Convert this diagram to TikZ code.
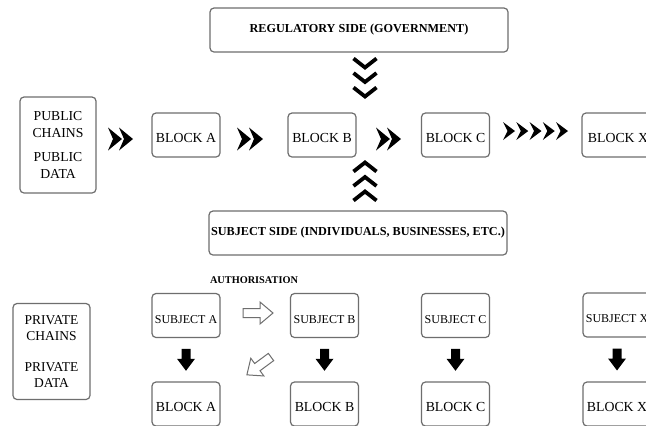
\documentclass[tikz,border=0pt]{standalone}
\usepackage{fontspec}
\setmainfont{Liberation Serif}
\usetikzlibrary{calc}
\definecolor{boxgray}{RGB}{110,110,110}
\tikzset{
  box/.style={draw=boxgray, line width=1.2bp, rounded corners=4bp, inner sep=0pt, fill=white},
  blockbox/.style={box, minimum width=68bp, minimum height=44bp, font=\fontsize{13.8bp}{16bp}\selectfont, text height=15bp, text depth=0bp},
  subjbox/.style={box, minimum width=68bp, minimum height=44bp, font=\fontsize{12bp}{14bp}\selectfont, text height=15bp, text depth=0bp},
  sidebox/.style={box, align=center, minimum width=76bp, minimum height=96bp, font=\fontsize{13.7bp}{17bp}\selectfont},
  headbox/.style={box, minimum width=298bp, minimum height=44bp, font=\bfseries\fontsize{12.2bp}{14bp}\selectfont},
  authlabel/.style={font=\bfseries\fontsize{10.3bp}{12bp}\selectfont, inner sep=0pt},
  bigchev/.pic={\fill (0,-11.5) -- (14,0) -- (0,11.5) -- (5,0) -- cycle;},
  smallchev/.pic={\fill (0,-9) -- (12,0) -- (0,9) -- (4.5,0) -- cycle;},
  downchev/.pic={\draw[line width=3.8bp] (-11.5,-4.5) -- (0,4.5) -- (11.5,-4.5);},
  upchev/.pic={\draw[line width=3.8bp] (-11.5,4.5) -- (0,-4.5) -- (11.5,4.5);},
  solidarrow/.pic={\fill (-4.5,-11) -- (4.5,-11) -- (4.5,-1) -- (9,-1) -- (0,11) -- (-9,-1) -- (-4.5,-1) -- cycle;},
  hollowarrow/.pic={\filldraw[fill=white, draw=boxgray, line width=1bp] (0,-4.5) -- (17,-4.5) -- (17,-11) -- (30,0) -- (17,11) -- (17,4.5) -- (0,4.5) -- cycle;},
}
\begin{document}
\begin{tikzpicture}[x=1bp,y=-1bp]
\useasboundingbox (0,0) rectangle (646,425);
\fill[white] (0,0) rectangle (646,425);
\clip (0,0) rectangle (646,425);

% top part
\node[headbox] (reg) at (359,30) {REGULATORY SIDE (GOVERNMENT)};
\node[sidebox] (pub) at (58,145) {PUBLIC\\CHAINS\\[7bp]PUBLIC\\DATA};
\node[blockbox] (tA) at (186,135) {BLOCK A};
\node[blockbox] (tB) at (322,135) {BLOCK B};
\node[blockbox] (tC) at (455.5,135) {BLOCK C};
\node[blockbox, minimum width=72bp] (tX) at (618,135) {BLOCK X};
\node[headbox] (subj) at (358,233) {SUBJECT SIDE (INDIVIDUALS, BUSINESSES, ETC.)};

% horizontal chevrons
\pic at (108,139) {bigchev};
\pic at (119,139) {bigchev};
\pic at (237,139) {bigchev};
\pic at (249,139) {bigchev};
\pic at (376,139) {bigchev};
\pic at (387,139) {bigchev};
\foreach \k in {0,...,4} {\pic at ({503+13.25*\k},131) {smallchev};}

% vertical chevrons
\foreach \yy in {63,77.5,92} {\pic at (365,\yy) {downchev};}
\foreach \yy in {167,181.5,196} {\pic at (365,\yy) {upchev};}

% bottom part
\node[authlabel] (auth) at (254,280) {AUTHORISATION};
\node[sidebox, minimum width=77bp, font=\fontsize{13.5bp}{15.5bp}\selectfont] (priv) at (51.5,351.5) {PRIVATE\\CHAINS\\[16bp]PRIVATE\\DATA};
\node[subjbox] (sA) at (186,315.5) {SUBJECT A};
\node[subjbox] (sB) at (324.5,315.5) {SUBJECT B};
\node[subjbox] (sC) at (455.5,315.5) {SUBJECT C};
\node[subjbox] (sX) at (617,315) {SUBJECT X};
\node[blockbox] (bA) at (186,404) {BLOCK A};
\node[blockbox] (bB) at (324.5,404) {BLOCK B};
\node[blockbox] (bC) at (455.5,404) {BLOCK C};
\node[blockbox] (bX) at (617,404) {BLOCK X};

\foreach \s/\b in {sA/bA,sB/bB,sC/bC,sX/bX} {\pic at ($(\s.south)!0.5!(\b.north)$) {solidarrow};}

\pic at (243,313) {hollowarrow};
\pic[rotate=216.5] at (271,357) {hollowarrow};
\end{tikzpicture}
\end{document}
